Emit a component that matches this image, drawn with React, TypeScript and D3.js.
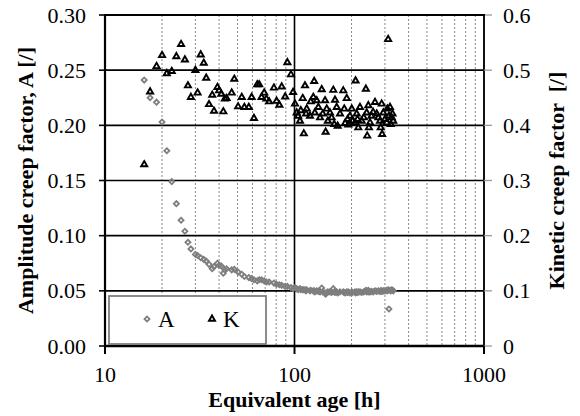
import * as d3 from "d3";

// equivalent age [h], shared by both series
const ages = [
  16.1, 17.3, 18.7, 20.0, 21.2, 22.5, 23.8, 25.2, 26.4, 27.4, 28.4, 30.0, 30.8, 32.0, 33.2,
  34.2, 35.4, 36.8, 37.6, 39.2, 40.0, 41.1, 42.1, 42.9, 43.8, 46.6, 48.1, 50.4, 52.7, 54.4,
  57.4, 59.4, 61.1, 63.6, 65.1, 67.0, 69.2, 71.1, 73.5, 77.9, 80.4, 83.2, 85.6, 89.3, 91.7,
  95.8, 98.3, 100.6, 102.7, 104.5, 106.9, 108.0, 110.5, 112, 113.6, 115, 116, 120.7, 121.8,
  125.7, 127, 128, 131, 133.6, 136.4, 139.2, 141, 144.9, 146, 147.9, 150, 153.9, 157, 160.2,
  162, 163.6, 167.0, 169, 173.8, 180.9, 183, 185, 188.6, 190.5, 192.3, 196.3, 200.4, 202.5,
  208.6, 210, 212.9, 215, 217.1, 221.6, 226.2, 232, 238, 240.4, 242, 245.2, 247, 250.3, 255,
  260, 266.0, 271.6, 277, 282.7, 285, 288.5, 290, 294.2, 300, 306.6, 309, 312, 315, 319.2,
  322, 326, 329, 332,
];

// amplitude creep factor A [/]
const ampA = [
  0.241, 0.225, 0.221, 0.203, 0.177, 0.149, 0.129, 0.114, 0.104, 0.094, 0.088, 0.083, 0.082,
  0.080, 0.0785, 0.077, 0.074, 0.070, 0.072, 0.075, 0.073, 0.0725, 0.066, 0.069, 0.070, 0.069,
  0.0695, 0.067, 0.065, 0.063, 0.062, 0.061, 0.060, 0.059, 0.060, 0.060, 0.059, 0.058, 0.058,
  0.057, 0.056, 0.0555, 0.055, 0.054, 0.054, 0.053, 0.052, 0.053, 0.052, 0.051, 0.052, 0.051,
  0.051, 0.051, 0.051, 0.050, 0.051, 0.050, 0.0505, 0.050, 0.050, 0.049, 0.050, 0.0495, 0.049,
  0.0525, 0.049, 0.048, 0.047, 0.0485, 0.049, 0.049, 0.0485, 0.052, 0.049, 0.0485, 0.049,
  0.048, 0.049, 0.049, 0.0485, 0.048, 0.049, 0.0485, 0.049, 0.048, 0.049, 0.0485, 0.049, 0.048,
  0.049, 0.0485, 0.049, 0.049, 0.0485, 0.049, 0.0505, 0.049, 0.0495, 0.0505, 0.049, 0.049,
  0.0495, 0.049, 0.050, 0.0495, 0.050, 0.0495, 0.050, 0.050, 0.0495, 0.050, 0.050, 0.0505,
  0.050, 0.051, 0.0335, 0.0505, 0.050, 0.051, 0.0505, 0.050,
];

// kinetic creep factor K [/]
const kinK = [
  0.330, 0.462, 0.508, 0.528, 0.495, 0.499, 0.526, 0.548, 0.520, 0.473, 0.452, 0.501, 0.460,
  0.529, 0.514, 0.487, 0.439, 0.456, 0.427, 0.470, 0.464, 0.458, 0.426, 0.449, 0.450, 0.460,
  0.485, 0.435, 0.452, 0.434, 0.434, 0.452, 0.414, 0.475, 0.475, 0.452, 0.460, 0.449, 0.444,
  0.469, 0.445, 0.438, 0.471, 0.453, 0.515, 0.493, 0.461, 0.440, 0.424, 0.418, 0.409, 0.428,
  0.450, 0.386, 0.473, 0.422, 0.431, 0.418, 0.444, 0.452, 0.481, 0.424, 0.446, 0.434, 0.415,
  0.466, 0.422, 0.446, 0.389, 0.431, 0.409, 0.424, 0.415, 0.465, 0.403, 0.447, 0.434, 0.400,
  0.422, 0.464, 0.431, 0.405, 0.450, 0.412, 0.402, 0.418, 0.431, 0.409, 0.406, 0.482, 0.422,
  0.412, 0.397, 0.434, 0.409, 0.415, 0.467, 0.424, 0.382, 0.437, 0.397, 0.406, 0.418, 0.425,
  0.443, 0.422, 0.415, 0.409, 0.397, 0.440, 0.385, 0.424, 0.412, 0.406, 0.431, 0.557, 0.418,
  0.434, 0.403, 0.415, 0.422, 0.409,
];

const leftTicks = [0, 0.05, 0.1, 0.15, 0.2, 0.25, 0.3];
const rightTicks = [0, 0.1, 0.2, 0.3, 0.4, 0.5, 0.6];
const xMajor = [10, 100, 1000];

const W = 580;
const H = 416;
const margin = { top: 15, right: 96, bottom: 70, left: 105 };
const font = "'Liberation Serif', 'Times New Roman', serif";

export default function App() {
  const x = d3
    .scaleLog()
    .domain([10, 1000])
    .range([margin.left, W - margin.right]);
  const yA = d3
    .scaleLinear()
    .domain([0, 0.3])
    .range([H - margin.bottom, margin.top]);
  const yK = d3
    .scaleLinear()
    .domain([0, 0.6])
    .range([H - margin.bottom, margin.top]);

  const [x0, x1] = x.range();
  const [yb, yt] = yA.range();

  // dotted minor lines at 20..90, 200..900
  const minor = d3.range(2, 10).flatMap((m) => [m * 10, m * 100]);

  const diamond = d3.symbol(d3.symbolSquare, 13)()!;
  const triangle = d3.symbol(d3.symbolTriangle, 16)()!;

  const points = ages.map((a, i) => ({ age: a, A: ampA[i], K: kinK[i] }));

  return (
    <svg
      width={W}
      height={H}
      style={{ position: "absolute", left: 0, top: 0, background: "#fff" }}
      fontFamily={font}
    >
      <rect width={W} height={H} fill="#fff" />

      {/* minor grid */}
      {minor.map((m) => (
        <line
          key={m}
          x1={x(m)}
          x2={x(m)}
          y1={yt}
          y2={yb}
          stroke="#888"
          strokeWidth={1}
          strokeDasharray="2 2"
        />
      ))}

      {/* horizontal grid */}
      {leftTicks.slice(1).map((t) => (
        <line key={t} x1={x0} x2={x1} y1={yA(t)} y2={yA(t)} stroke="#000" strokeWidth={1.6} />
      ))}
      <line x1={x(100)} x2={x(100)} y1={yt} y2={yb} stroke="#000" strokeWidth={1.6} />

      {/* axes */}
      <line x1={x0} x2={x0} y1={yt} y2={yb + 1} stroke="#000" strokeWidth={2.2} />
      <line x1={x1} x2={x1} y1={yt} y2={yb} stroke="#111" strokeWidth={2} />
      <line x1={x0 - 1} x2={x1 + 1} y1={yb} y2={yb} stroke="#000" strokeWidth={2.6} />

      {leftTicks.map((t) => (
        <g key={t}>
          <line x1={x0 - 6} x2={x0} y1={yA(t)} y2={yA(t)} stroke="#000" strokeWidth={1.6} />
          <text
            x={x0 - 19}
            y={yA(t)}
            textAnchor="end"
            dominantBaseline="central"
            fontSize={22}
            fill="#000"
          >
            {d3.format(".2f")(t)}
          </text>
        </g>
      ))}

      {rightTicks.map((t) => (
        <g key={t}>
          <line x1={x1} x2={x1 + 8} y1={yK(t)} y2={yK(t)} stroke="#999" strokeWidth={1.3} />
          <text
            x={x1 + 19}
            y={yK(t)}
            textAnchor="start"
            dominantBaseline="central"
            fontSize={22}
            fill="#000"
          >
            {t === 0 ? "0" : d3.format(".1f")(t)}
          </text>
        </g>
      ))}

      {xMajor.map((t) => (
        <g key={t}>
          <line x1={x(t)} x2={x(t)} y1={yb} y2={yb + 8} stroke="#000" strokeWidth={2} />
          <text x={x(t)} y={yb + 36} textAnchor="middle" fontSize={22} fill="#000">
            {t}
          </text>
        </g>
      ))}

      {/* series */}
      {points.map((p, i) => (
        <path
          key={"a" + i}
          d={diamond}
          transform={`translate(${x(p.age)},${yA(p.A)}) rotate(45)`}
          fill="none"
          stroke="#7f7f7f"
          strokeWidth={1.8}
        />
      ))}
      {points.map((p, i) => (
        <path
          key={"k" + i}
          d={triangle}
          transform={`translate(${x(p.age)},${yK(p.K) + 0.6})`}
          fill="none"
          stroke="#000"
          strokeWidth={1.9}
        />
      ))}

      {/* top border */}
      <line x1={x0 - 1} x2={x1 + 1} y1={yt} y2={yt} stroke="#000" strokeWidth={2.2} />

      {/* legend */}
      <g>
        <rect x={109} y={296} width={157} height={48} fill="#fff" stroke="#7f7f7f" strokeWidth={1.8} />
        <path
          d={diamond}
          transform={`translate(147,319) rotate(45)`}
          fill="none"
          stroke="#7f7f7f"
          strokeWidth={1.8}
        />
        <text x={158} y={327} fontSize={23} fill="#000">
          A
        </text>
        <path d={triangle} transform="translate(212,319)" fill="none" stroke="#000" strokeWidth={1.9} />
        <text x={223} y={327} fontSize={23} fill="#000">
          K
        </text>
      </g>

      {/* titles */}
      <text
        transform={`translate(25,${(yt + yb) / 2}) rotate(-90)`}
        textAnchor="middle"
        dominantBaseline="central"
        fontSize={22}
        fontWeight="bold"
        fill="#000"
      >
        Amplitude creep factor, A [/]
      </text>
      <text
        transform={`translate(556,${(yt + yb) / 2}) rotate(-90)`}
        textAnchor="middle"
        dominantBaseline="central"
        fontSize={22}
        fontWeight="bold"
        fill="#000"
        style={{ whiteSpace: "pre" }}
      >
        {"Kinetic creep factor  [/]"}
      </text>
      <text
        x={(x0 + x1) / 2}
        y={407}
        textAnchor="middle"
        fontSize={22}
        fontWeight="bold"
        fill="#000"
      >
        Equivalent age [h]
      </text>
    </svg>
  );
}
